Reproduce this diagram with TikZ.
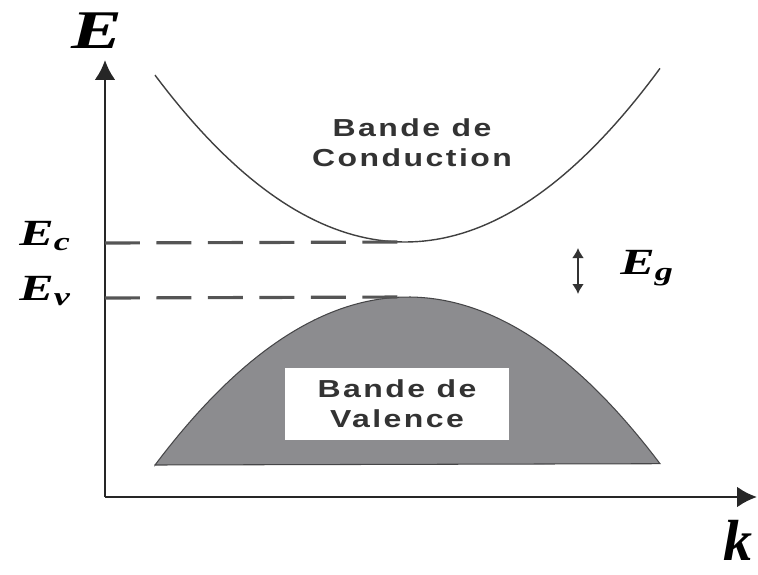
\documentclass[tikz,border=0pt]{standalone}
\usepackage{fontspec}
\setmainfont{Liberation Serif}
\newfontfamily\labfont[FakeStretch=1.4]{Liberation Serif}
\newfontfamily\bandfont[FakeStretch=1.3,LetterSpace=10]{Liberation Sans}
\usetikzlibrary{arrows.meta}
\definecolor{bandgray}{RGB}{140,140,143}
\definecolor{bandedge}{RGB}{70,70,72}
\definecolor{dashgray}{RGB}{85,85,85}

\begin{document}
\begin{tikzpicture}[
      x=0.02cm,y=-0.02cm,
      axis/.style={-{Latex[length=0.4cm,width=0.42cm]},line width=1.6pt,black!85},
      curve/.style={line width=0.8pt,black!75},
      levelline/.style={line width=1.8pt,dashgray,dash pattern=on 0.7cm off 0.33cm},
      gaparrow/.style={{Latex[length=0.2cm,width=0.24cm]}-{Latex[length=0.2cm,width=0.24cm]},line width=1.5pt,black!80},
      lab/.style={font=\fontsize{21}{21}\selectfont\labfont\bfseries\itshape,inner sep=0pt},
      bandtxt/.style={font=\fontsize{14}{17}\selectfont\bandfont\bfseries,align=center,text=black!80}
    ]
      \useasboundingbox (0,0) rectangle (758,575);
      % axes
      \coordinate (O) at (105,497);
      \coordinate (Etop) at (105,60);
      \coordinate (kend) at (757,497);
      \draw[axis] (O) -- (Etop);
      \draw[axis] (O) -- (kend);
      \node[lab,font=\fontsize{31}{31}\selectfont\labfont\bfseries\itshape] (Elab) at (97,31) {E};
      \node[lab,font=\fontsize{33}{33}\selectfont\bfseries\itshape] (klab) at (738,540) {k};
      % bands
      \coordinate (cmin) at (405,242);
      \coordinate (vmax) at (408,297);
      \filldraw[fill=bandgray,draw=bandedge,line width=0.6pt]
        (155,465) -- plot[domain=155:660,samples=80] (\x,{297+26.25*((\x-408)/100)^2}) -- cycle;
      \draw[curve] plot[domain=155:660,samples=80] (\x,{242-26.7*((\x-405)/100)^2});
      % levels
      \draw[levelline] (105,243) -- (cmin);
      \draw[levelline] (105,298) -- (vmax);
      \node[lab] (Ec) at (45,236) {E\textsubscript{c}};
      \node[lab] (Ev) at (45,291) {E\textsubscript{v}};
      \coordinate (gtop) at (578,248);
      \coordinate (gbot) at (578,294);
      \draw[gaparrow] (gtop) -- (gbot);
      \node[lab] (Eg) at (647,268) {E\textsubscript{g}};
      % labels
      \node[bandtxt] (cond) at (412,143) {Bande de\\Conduction};
      \node[bandtxt,fill=white,minimum width=4.5cm,minimum height=1.44cm] (val) at (397,404) {Bande de\\Valence};
    \end{tikzpicture}
\end{document}
